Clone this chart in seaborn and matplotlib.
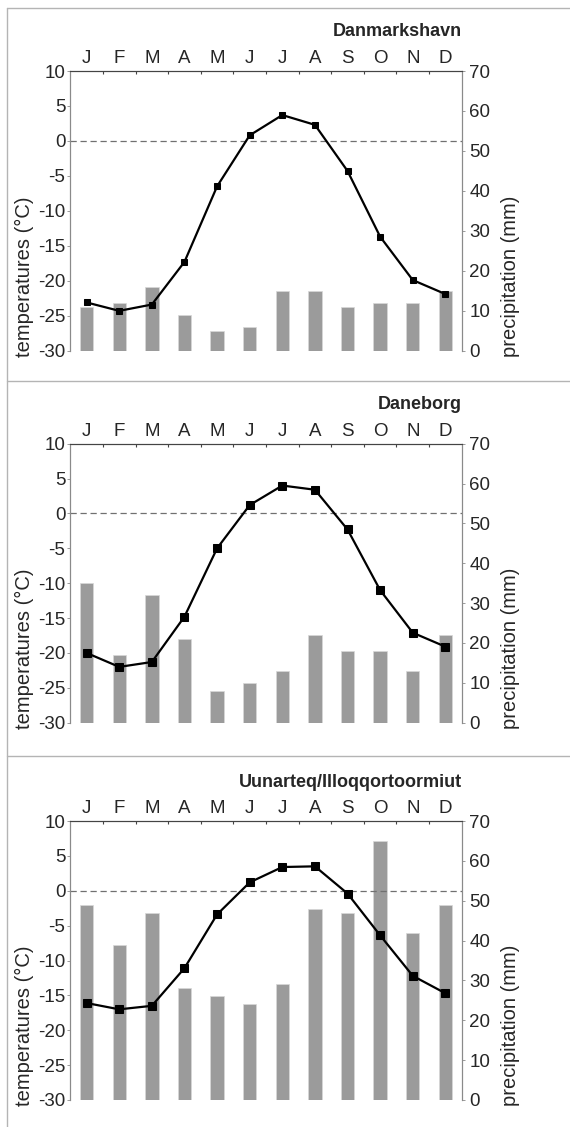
import matplotlib
matplotlib.use("Agg")
import matplotlib.pyplot as plt
from matplotlib.lines import Line2D
import numpy as np
import pandas as pd
import seaborn as sns

sns.set_style("white")
plt.rcParams["font.family"] = ["Liberation Sans", "DejaVu Sans"]
plt.rcParams["axes.unicode_minus"] = False

months = ["J", "F", "M", "A", "M", "J", "J", "A", "S", "O", "N", "D"]

stations = ["Danmarkshavn", "Daneborg", "Uunarteq/Illoqqortoormiut"]

# mean monthly air temperature (°C)
temp_danmarkshavn = [-23.1, -24.3, -23.4, -17.3, -6.5, 0.8, 3.7, 2.3, -4.3, -13.7, -19.9, -21.9]
temp_daneborg = [-20.0, -22.0, -21.3, -14.8, -5.0, 1.2, 4.0, 3.4, -2.3, -11.0, -17.1, -19.1]
temp_uunarteq = [-16.1, -17.0, -16.5, -11.1, -3.4, 1.2, 3.4, 3.5, -0.4, -6.4, -12.2, -14.7]

# mean monthly precipitation (mm)
prec_danmarkshavn = [11, 12, 16, 9, 5, 6, 15, 15, 11, 12, 12, 15]
prec_daneborg = [35, 17, 32, 21, 8, 10, 13, 22, 18, 18, 13, 22]
prec_uunarteq = [49, 39, 47, 28, 26, 24, 29, 48, 47, 65, 42, 49]

temps = [temp_danmarkshavn, temp_daneborg, temp_uunarteq]
precs = [prec_danmarkshavn, prec_daneborg, prec_uunarteq]
marker_sizes = [4, 6, 6]

W, H = 570, 1127
fig = plt.figure(figsize=(W / 100, H / 100), dpi=100)

# panel geometry in pixels: (top, bottom) of each plotting area
panel_px = [(71, 350.7), (443.7, 722.7), (821, 1100)]
left_px, right_px = 70.3, 461.7
axw = right_px - left_px

bar_color = "#9b9b9b"
spine_color = "#8a8a8a"
tick_fs = 13.5
label_fs = 14.5

for k, (top, bot) in enumerate(panel_px):
    axh = bot - top
    ax = fig.add_axes([left_px / W, 1 - bot / H, axw / W, axh / H])
    ax2 = ax.twinx()

    df = pd.DataFrame({"month": np.arange(12), "temp": temps[k], "prec": precs[k]})

    # precipitation bars on the right-hand axis
    sns.barplot(data=df, x="month", y="prec", ax=ax2, color=bar_color,
                saturation=1, width=0.41, edgecolor="#d8d8d8", linewidth=0.5)
    ax2.set_ylim(0, 70)
    ax2.set_yticks(np.arange(0, 71, 10))
    ax2.set_ylabel("precipitation (mm)", fontsize=label_fs, loc="bottom")
    ax2.yaxis.set_label_coords((501 - left_px) / axw, -6 / axh)

    # temperature curve on the left-hand axis, drawn above the bars
    ax.set_zorder(ax2.get_zorder() + 1)
    ax.patch.set_visible(False)
    ax.axhline(0, color="#707070", lw=0.9, ls=(0, (5, 3)), zorder=1)
    sns.lineplot(data=df, x="month", y="temp", ax=ax, color="black", lw=1.6,
                 marker="s", markersize=marker_sizes[k], markeredgecolor="black",
                 zorder=3)
    ax.set_ylim(-30, 10)
    ax.set_yticks(np.arange(-30, 11, 5))
    ax.set_ylabel("temperatures (°C)", fontsize=label_fs, loc="bottom")
    ax.yaxis.set_label_coords((34 - left_px) / axw, -6 / axh)

    for a in (ax, ax2):
        a.set_xlim(-0.5, 11.5)
        a.set_xlabel("")
        a.spines["bottom"].set_visible(False)
        a.spines["left"].set_color(spine_color)
        a.spines["right"].set_color(spine_color)
        a.spines["top"].set_color("#444444")
        for s in a.spines.values():
            s.set_linewidth(0.8)

    ax.tick_params(axis="y", which="major", direction="out", length=2.5, width=0.6,
                   color=spine_color, labelsize=tick_fs, pad=1, left=True, right=False)
    ax2.tick_params(axis="y", which="major", direction="out", length=2.5, width=0.6,
                    color=spine_color, labelsize=tick_fs, pad=3, right=True, left=False)

    # month initials above the frame, small ticks at month boundaries
    ax.xaxis.tick_top()
    ax.set_xticks(np.arange(12))
    ax.set_xticklabels(months)
    ax.set_xticks(np.arange(0.5, 11, 1), minor=True)
    ax.tick_params(axis="x", which="major", length=0, labelsize=tick_fs, pad=3)
    ax.tick_params(axis="x", which="minor", direction="in", length=2.5, width=0.8,
                   color="#444444", top=True, bottom=False)
    ax2.tick_params(axis="x", which="both", top=False, bottom=False,
                    labeltop=False, labelbottom=False)

    ax.text(1.0, 1 + 39 / axh, stations[k], transform=ax.transAxes,
            ha="right", va="center", fontsize=13, fontweight="bold")

# panel frame lines
frame_color = "#b4b4b4"
fig.add_artist(Line2D([7 / W, 7 / W], [0, 1 - 8 / H], color=frame_color, lw=1.0))
for yp in (8, 381, 756):
    fig.add_artist(Line2D([7 / W, 1], [1 - yp / H, 1 - yp / H], color=frame_color, lw=1.0))

fig.savefig("out.png", dpi=100)
